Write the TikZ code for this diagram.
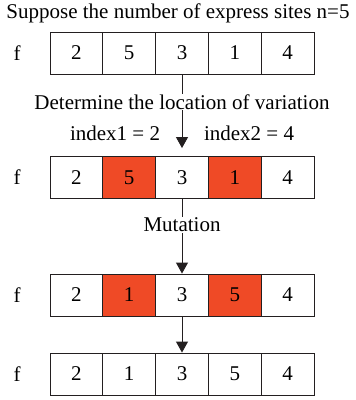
\documentclass[tikz,border=0pt]{standalone}
\usepackage{fontspec}
\setmainfont{Liberation Serif}
\usetikzlibrary{positioning, arrows.meta}

\definecolor{swapred}{RGB}{239,74,38}
\definecolor{linegray}{RGB}{35,31,32}

\tikzset{
    cell/.style={draw=linegray, line width=0.9pt, minimum width=52.8pt, minimum height=42pt, inner sep=0pt},
    hot/.style={cell, fill=swapred},
    link/.style={draw=linegray, line width=0.9pt, -{Triangle[width=12pt,length=11pt]}},
    lbl/.style={inner sep=1pt}
}

\begin{document}
\begin{tikzpicture}[x=1pt, y=-1pt, font=\fontsize{21}{24}\selectfont]
    \useasboundingbox (0,0) rectangle (356,400);
    \node[lbl] (title) at (178,13) {Suppose the number of express sites n=5};

    % row 1
    \node[lbl] (f1) at (17,53) {f};
    \foreach \v [count=\i] in {2,5,3,1,4}
        \node[cell] (r1c\i) at (23.6+52.8*\i,53) {\v};

    % row 2
    \node[lbl] (f2) at (17,177.5) {f};
    \node[cell] (r2c1) at (76.4,177.5) {2};
    \node[hot]  (r2c2) at (129.2,177.5) {5};
    \node[cell] (r2c3) at (182,177.5) {3};
    \node[hot]  (r2c4) at (234.8,177.5) {1};
    \node[cell] (r2c5) at (287.6,177.5) {4};

    % row 3
    \node[lbl] (f3) at (17,295) {f};
    \node[cell] (r3c1) at (76.4,295) {2};
    \node[hot]  (r3c2) at (129.2,295) {1};
    \node[cell] (r3c3) at (182,295) {3};
    \node[hot]  (r3c4) at (234.8,295) {5};
    \node[cell] (r3c5) at (287.6,295) {4};

    % row 4
    \node[lbl] (f4) at (17,374) {f};
    \foreach \v [count=\i] in {2,1,3,5,4}
        \node[cell] (r4c\i) at (23.6+52.8*\i,374) {\v};

    % steps
    \draw[link, shorten >=8pt] (r1c3) -- (r2c3);
    \draw[link] (r2c3) -- (r3c3);
    \draw[link] (r3c3) -- (r4c3);
    \node[lbl, fill=white] (locate) at (182,102) {Determine the location of variation};
    \node[lbl] (idx1) at (115,133) {index1 = 2};
    \node[lbl] (idx2) at (249,133) {index2 = 4};
    \node[lbl, fill=white] (mutate) at (182,225) {Mutation};
\end{tikzpicture}
\end{document}
